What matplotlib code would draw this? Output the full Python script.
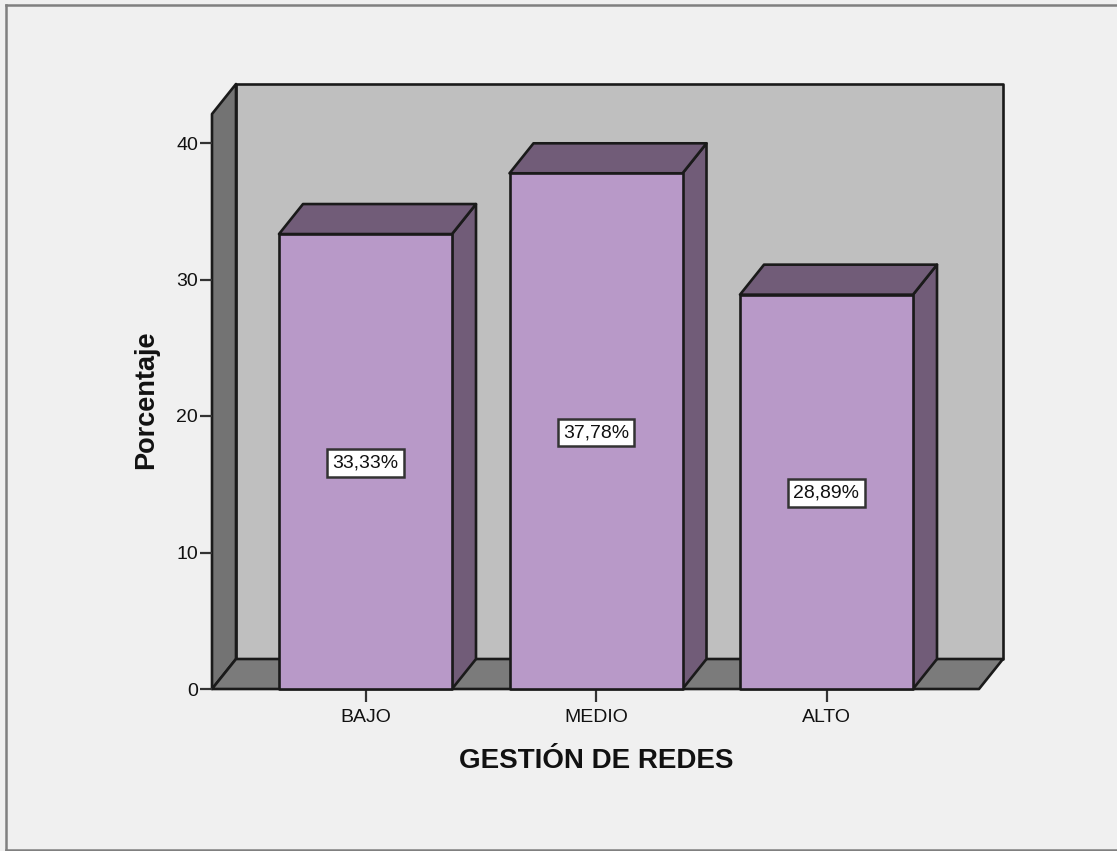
import matplotlib
matplotlib.use("Agg")
import matplotlib.pyplot as plt
from matplotlib.lines import Line2D
from matplotlib.patches import Polygon

# Data
categories = ["BAJO", "MEDIO", "ALTO"]
values = [33.33, 37.78, 28.89]
value_labels = ["33,33%", "37,78%", "28,89%"]
y_ticks = [0, 10, 20, 30, 40]

W, H = 1117, 851
plt.rcParams["font.family"] = ["Liberation Sans", "DejaVu Sans"]

fig = plt.figure(figsize=(W / 100, H / 100), dpi=100, facecolor="#f0f0f0")

# front plane of the 3D box, in pixels
left, right, bottom, top = 212, 979, 689, 114
ax = fig.add_axes([left / W, 1 - bottom / H, (right - left) / W, (bottom - top) / H])
ax.patch.set_visible(False)
for s in ax.spines.values():
    s.set_visible(False)

px_x = 230.5  # pixels per category
px_y = 13.65  # pixels per percent
ax.set_xlim(-(365.5 - left) / px_x, 2 + (right - 826.5) / px_x)
ax.set_ylim(0, (bottom - top) / px_y)
x0, x1 = ax.get_xlim()
y0, y1 = ax.get_ylim()

# depth of the 3D effect
dx = 24 / px_x
dy = 30 / px_y
bar_w = 173 / px_x

edge = "#1a1a1a"


def face(points, color, z=1):
    ax.add_patch(Polygon(points, closed=True, facecolor=color, edgecolor=edge,
                         linewidth=1.9, joinstyle="round", clip_on=False, zorder=z))


# walls
face([(x0 + dx, y0 + dy), (x1 + dx, y0 + dy), (x1 + dx, y1 + dy), (x0 + dx, y1 + dy)], "#bfbfbf")
face([(x0, y0), (x0 + dx, y0 + dy), (x0 + dx, y1 + dy), (x0, y1)], "#737373")
face([(x0, y0), (x1, y0), (x1 + dx, y0 + dy), (x0 + dx, y0 + dy)], "#7b7b7b")

# bars
for i, v in enumerate(values):
    a = i - bar_w / 2
    b = i + bar_w / 2
    face([(b, 0), (b + dx, dy), (b + dx, v + dy), (b, v)], "#715c78", 3)
    face([(a, v), (b, v), (b + dx, v + dy), (a + dx, v + dy)], "#715c78", 3)
    face([(a, 0), (b, 0), (b, v), (a, v)], "#b899c8", 4)
    ax.annotate(value_labels[i], (i, v / 2), xytext=(0, -1), textcoords="offset points",
                ha="center", va="center", fontsize=14, color="#111111", zorder=5,
                bbox=dict(boxstyle="square,pad=0.27", facecolor="white",
                          edgecolor="#333333", linewidth=1.8))

ax.set_xticks(range(len(categories)))
ax.set_xticklabels(categories)
ax.set_yticks(y_ticks)
ax.tick_params(axis="both", length=9, width=1.6, color="#333333", labelsize=14,
               labelcolor="#111111", pad=1)
ax.tick_params(axis="x", pad=5.5)

fig.text(596 / W, 1 - 761 / H, "GESTIÓN DE REDES", ha="center", va="center",
         fontsize=20, fontweight="bold", color="#111111")
fig.text(146 / W, 1 - 400 / H, "Porcentaje", ha="center", va="center", rotation=90,
         fontsize=19.5, fontweight="bold", color="#111111")

# outer frame of the screenshot (no right edge)
frame = [([6, W], [5, 5]), ([6, 6], [5, 850]), ([6, W], [850, 850])]
for xs, ys in frame:
    fig.add_artist(Line2D([x / W for x in xs], [1 - y / H for y in ys],
                          color="#808080", linewidth=1.8, transform=fig.transFigure))

fig.savefig("out.png", dpi=100, facecolor=fig.get_facecolor())
